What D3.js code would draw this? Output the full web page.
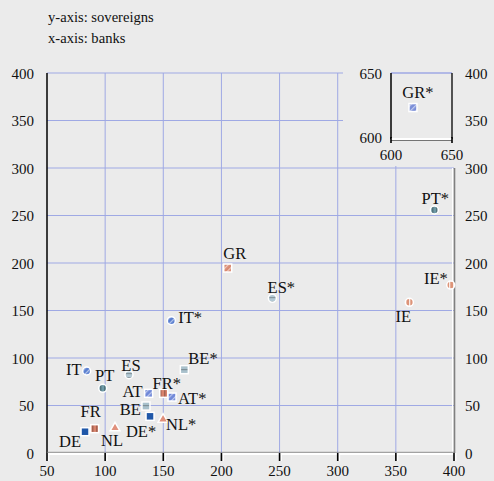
<!DOCTYPE html>
<html><head><meta charset="utf-8">
<script src="https://cdn.jsdelivr.net/npm/d3@7"></script>
<style>html,body{margin:0;padding:0;background:#ebebeb;}svg{display:block;}
svg text{font-family:"Liberation Serif","DejaVu Serif","Times New Roman",serif;}</style>
</head><body>
<script>
// ---- data ----
const labels     = ["DE","FR","NL","BE","AT","ES","IT","PT","GR","IE","DE*","FR*","NL*","BE*","AT*","ES*","IT*","PT*","IE*"];
const banks      = [82.7, 91.0, 108.5, 135.1, 137.4, 120.5, 84.1, 97.9, 205.4, 361.6, 138.6, 150.4, 149.8, 168.1, 157.5, 243.8, 156.9, 383.1, 397.2];
const sovereigns = [22.4, 25.6, 27.4, 49.5, 62.8, 82.4, 86.3, 68.1, 194.7, 158.6, 38.6, 62.8, 36.5, 87.7, 58.9, 162.8, 139.3, 255.8, 176.8];
const insetLabels = ["GR*"];
const insetBanks  = [618];
const insetSov    = [623];
const xTicks = [50,100,150,200,250,300,350,400];
const yTicks = [0,50,100,150,200,250,300,350,400];
const insetTicks = [600,650];
const titleLines = ["y-axis: sovereigns","x-axis: banks"];

// ---- styles (per marker key) ----
const style = {
  DE:{shape:"square",fill:"#1f57a8",pat:null},
  FR:{shape:"square",fill:"#d9836c",pat:"vstripe"},
  NL:{shape:"triangle",fill:"#e0907c",pat:null},
  BE:{shape:"square",fill:"#a9c1cc",pat:"hstripe"},
  AT:{shape:"square",fill:"#7088d8",pat:"diag"},
  ES:{shape:"circle",fill:"#b3c9d4",pat:"hstripe"},
  IT:{shape:"circle",fill:"#5a7fd0",pat:"diag"},
  PT:{shape:"circle",fill:"#6e9aa6",pat:"vstripe"},
  GR:{shape:"square",fill:"#d98a72",pat:"diag"},
  GRs:{shape:"square",fill:"#7a8ed8",pat:"diag"},
  IE:{shape:"circle",fill:"#dd9478",pat:"vstripe2"}
};
const labelPos = {
  "DE":[-4,15,"end"],"FR":[-4,-12,"middle"],"NL":[-3,19,"middle"],"BE":[-5,9,"end"],
  "AT":[-6,4,"end"],"ES":[2,-4,"middle"],"IT":[-5,4,"end"],"PT":[2,-7,"middle"],
  "GR":[7,-9,"middle"],"IE":[-6,20,"middle"],"DE*":[-9,21,"middle"],"FR*":[3,-4,"middle"],
  "NL*":[3,12,"start"],"BE*":[4,-6,"start"],"AT*":[6,7,"start"],"ES*":[9,-5,"middle"],
  "IT*":[7,2,"start"],"PT*":[1,-6,"middle"],"IE*":[-3,-1,"end"],"GR*":[5,-10,"middle"]
};

const W=494,H=481;
const svg=d3.select("body").append("svg").attr("width",W).attr("height",H);
svg.append("rect").attr("width",W).attr("height",H).attr("fill","#ebebeb");
const grid="#9fa9e4";
const tickSize=15, labelSize=16.5;

// patterns
const defs=svg.append("defs");
Object.entries(style).forEach(([k,s])=>{
  if(!s.pat) return;
  const p=defs.append("pattern").attr("id","p"+k).attr("patternUnits","userSpaceOnUse")
    .attr("width",4).attr("height",4);
  p.append("rect").attr("width",4).attr("height",4).attr("fill",s.fill);
  const c=d3.color(s.fill);
  if(s.pat==="diag"){
    p.attr("patternTransform","rotate(45)");
    p.append("rect").attr("x",0).attr("width",1.2).attr("height",4).attr("fill","#ffffff").attr("opacity",0.55);
  } else if(s.pat==="vstripe"){
    p.append("rect").attr("x",0).attr("width",1.5).attr("height",4).attr("fill",c.darker(0.8));
  } else if(s.pat==="vstripe2"){
    p.append("rect").attr("x",1).attr("width",1.3).attr("height",4).attr("fill","#ffffff").attr("opacity",0.8);
  } else if(s.pat==="hstripe"){
    p.append("rect").attr("y",1).attr("width",4).attr("height",1.2).attr("fill",c.darker(0.8));
  }
});

// title
svg.selectAll("text.title").data(titleLines).join("text")
  .attr("x",48).attr("y",(d,i)=>22+i*21).attr("font-size",14.6)
  .attr("fill","#111").text(d=>d);

// scales
const x=d3.scaleLinear().domain([50,400]).range([47,454]);
const y=d3.scaleLinear().domain([0,400]).range([453,73]);
const xi=d3.scaleLinear().domain([600,650]).range([391,452]);
const yi=d3.scaleLinear().domain([600,650]).range([137,73]);

// gridlines
const g=svg.append("g");
g.selectAll("line.h").data(yTicks.filter(v=>v>0)).join("line")
  .attr("x1",47).attr("x2",454).attr("y1",d=>y(d)).attr("y2",d=>y(d))
  .attr("stroke",grid).attr("stroke-width",1);
g.selectAll("line.v").data(xTicks.filter(v=>v>50&&v<400)).join("line")
  .attr("x1",d=>x(d)).attr("x2",d=>x(d)).attr("y1",73).attr("y2",453)
  .attr("stroke",grid).attr("stroke-width",1);

// inset cover panel
svg.append("rect").attr("x",343).attr("y",0).attr("width",W-343).attr("height",166).attr("fill","#ebebeb");

// left axis
svg.append("line").attr("x1",47).attr("x2",47).attr("y1",73).attr("y2",453).attr("stroke","#000").attr("stroke-width",1.5);
svg.selectAll("text.yl").data(yTicks).join("text")
  .attr("x",34).attr("y",d=>y(d)+5.5).attr("text-anchor","end")
  .attr("font-size",tickSize).attr("fill","#111").text(d=>d);
// right axis
svg.append("line").attr("x1",452.5).attr("x2",452.5).attr("y1",168).attr("y2",453).attr("stroke","#fff").attr("stroke-width",1);
svg.append("line").attr("x1",454.5).attr("x2",454.5).attr("y1",168).attr("y2",453).attr("stroke","#808080").attr("stroke-width",1.6);
svg.selectAll("text.yr").data(yTicks).join("text")
  .attr("x",465).attr("y",d=>y(d)+5.5).attr("text-anchor","start")
  .attr("font-size",tickSize).attr("fill","#111").text(d=>d);
// bottom axis
svg.append("line").attr("x1",47).attr("x2",455).attr("y1",452.3).attr("y2",452.3).attr("stroke","#777").attr("stroke-width",0.8);
svg.append("line").attr("x1",47).attr("x2",455).attr("y1",454).attr("y2",454).attr("stroke","#fff").attr("stroke-width",2.2);
xTicks.forEach(v=>{
  svg.append("line").attr("x1",x(v)+1.8).attr("x2",x(v)+1.8).attr("y1",453).attr("y2",461).attr("stroke","#fff").attr("stroke-width",1.2);
  svg.append("line").attr("x1",x(v)).attr("x2",x(v)).attr("y1",453).attr("y2",461).attr("stroke","#000").attr("stroke-width",1.6);
});
svg.selectAll("text.xl").data(xTicks).join("text")
  .attr("x",d=>x(d)).attr("y",476).attr("text-anchor","middle")
  .attr("font-size",tickSize).attr("fill","#111").text(d=>d);

// inset
svg.append("line").attr("x1",xi(600)).attr("x2",xi(650)).attr("y1",yi(650)).attr("y2",yi(650)).attr("stroke",grid).attr("stroke-width",1.5);
svg.append("line").attr("x1",xi(600)).attr("x2",xi(600)).attr("y1",yi(650)).attr("y2",139).attr("stroke","#000").attr("stroke-width",1.5);
svg.append("line").attr("x1",xi(650)).attr("x2",xi(650)).attr("y1",yi(650)).attr("y2",139).attr("stroke","#000").attr("stroke-width",1.3);
svg.append("line").attr("x1",xi(600)).attr("x2",xi(650)).attr("y1",139).attr("y2",139).attr("stroke","#fff").attr("stroke-width",2);
svg.append("line").attr("x1",xi(600)).attr("x2",xi(650)).attr("y1",140.5).attr("y2",140.5).attr("stroke","#555").attr("stroke-width",0.8);
insetTicks.forEach(v=>{
  svg.append("line").attr("x1",xi(v)).attr("x2",xi(v)).attr("y1",137).attr("y2",143).attr("stroke","#000").attr("stroke-width",1.6);
});
svg.selectAll("text.iy").data(insetTicks).join("text")
  .attr("x",382).attr("y",d=>yi(d)+5.5).attr("text-anchor","end")
  .attr("font-size",tickSize).attr("fill","#111").text(d=>d);
svg.selectAll("text.ix").data(insetTicks).join("text")
  .attr("x",d=>xi(d)).attr("y",160).attr("text-anchor","middle")
  .attr("font-size",tickSize).attr("fill","#111").text(d=>d);

// markers
function drawMarker(sel,lab,px,py){
  const key=lab==="GR*"?"GRs":lab.replace("*","");
  const s=style[key];
  const fill=s.pat?`url(#p${key})`:s.fill;
  const r=4;
  if(s.shape==="square"){
    sel.append("rect").attr("x",px-r).attr("y",py-r).attr("width",2*r).attr("height",2*r)
      .attr("fill",fill).attr("stroke","#fff").attr("stroke-width",1.5);
  } else if(s.shape==="circle"){
    sel.append("circle").attr("cx",px).attr("cy",py).attr("r",r)
      .attr("fill",fill).attr("stroke","#fff").attr("stroke-width",1.5);
  } else {
    const tri=d3.symbol().type(d3.symbolTriangle).size(42);
    sel.append("path").attr("d",tri()).attr("transform",`translate(${px},${py+1})`)
      .attr("fill",fill).attr("stroke","#fff").attr("stroke-width",1.5);
  }
}
function drawLabel(lab,px,py){
  const [dx,dy,anc]=labelPos[lab];
  svg.append("text").attr("x",px+dx).attr("y",py+dy).attr("text-anchor",anc)
    .attr("font-size",labelSize).attr("fill","#111").text(lab);
}
const mg=svg.append("g");
labels.forEach((lab,i)=>drawMarker(mg,lab,x(banks[i]),y(sovereigns[i])));
insetLabels.forEach((lab,i)=>drawMarker(mg,lab,xi(insetBanks[i]),yi(insetSov[i])));
labels.forEach((lab,i)=>drawLabel(lab,x(banks[i]),y(sovereigns[i])));
insetLabels.forEach((lab,i)=>drawLabel(lab,xi(insetBanks[i]),yi(insetSov[i])));
</script>
</body></html>
